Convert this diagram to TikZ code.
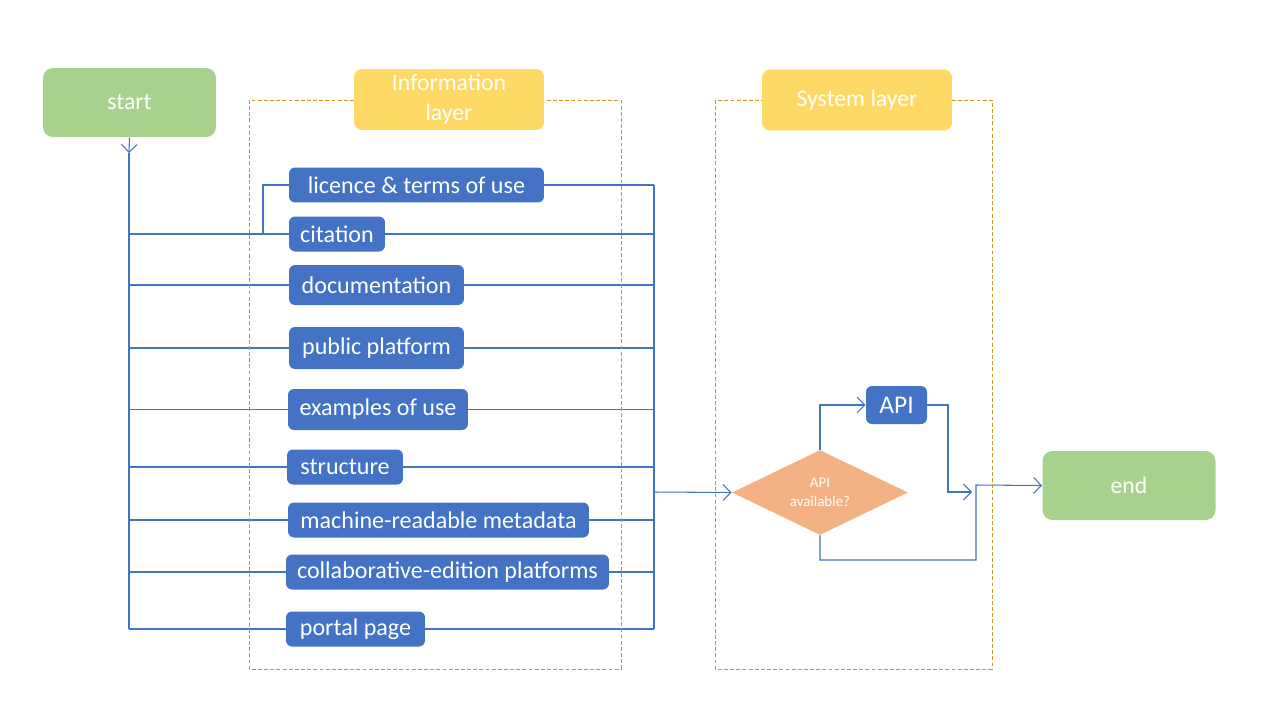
\documentclass[tikz,border=0pt]{standalone}
\usepackage{fontspec}
\setmainfont{Carlito}
\usetikzlibrary{arrows.meta,shapes.geometric,calc}
\pgfdeclarelayer{bg}
\pgfsetlayers{bg,main}
\definecolor{cgreen}{HTML}{A9D18E}
\definecolor{cyellow}{HTML}{FFD966}
\definecolor{cblue}{HTML}{4472C4}
\definecolor{corange}{HTML}{F4B183}
\definecolor{cgold}{HTML}{C99A1E}
\definecolor{cline}{HTML}{4472C4}
\tikzset{
  termbox/.style={fill=cgreen, rounded corners=0.2cm, text=white, font=\fontsize{13.5}{16}\selectfont, minimum width=3.46cm, minimum height=1.38cm, inner sep=0pt},
  layerbox/.style={fill=cyellow, rounded corners=0.16cm, text=white, font=\fontsize{13.5}{17}\selectfont, minimum width=3.8cm, minimum height=1.22cm, inner sep=0pt, align=center},
  itembox/.style={fill=cblue, rounded corners=0.12cm, text=white, font=\fontsize{13.7}{16}\selectfont, minimum height=0.7cm, inner sep=0pt},
  frame/.style={draw=cgold, line width=0.45pt, dash pattern=on 2.2pt off 1.3pt},
  conn/.style={draw=cline, line width=0.6pt},
  arr/.style={conn, -{Straight Barb[length=4.5pt,width=9pt]}},
}
\begin{document}
\begin{tikzpicture}[x=0.02cm,y=-0.02cm]
\useasboundingbox (0,0) rectangle (1280,720);
% frames
\draw[frame] (249,100) rectangle (621,669);
\draw[frame] (715,100) rectangle (992,669);
% terminals and layers
\node[termbox] (start) at (129.5,102.5) {start};
\node[termbox] (end) at (1129,485.5) {end};
\node[layerbox] (info) at (449,99.5) {Information\\layer};
\node[layerbox] (sys) at (857,100) {System layer};
% items
\node[itembox, minimum width=5.1cm] (lic) at (416.5,185) {licence \& terms of use};
\node[itembox, minimum width=1.92cm] (cit) at (337,234) {citation};
\node[itembox, minimum width=3.5cm, minimum height=0.8cm] (doc) at (376.5,285) {documentation};
\node[itembox, minimum width=3.5cm, minimum height=0.84cm] (pub) at (376.5,348) {public platform};
\node[itembox, minimum width=3.6cm, minimum height=0.82cm] (ex) at (378,409.5) {examples of use};
\node[itembox, minimum width=2.32cm] (str) at (345,467) {structure};
\node[itembox, minimum width=6.02cm] (mach) at (438.5,520) {machine-readable metadata};
\node[itembox, minimum width=6.46cm] (coll) at (447.5,572) {collaborative-edition platforms};
\node[itembox, minimum width=2.78cm] (portal) at (355.5,629) {portal page};
\node[itembox, minimum width=1.22cm, minimum height=0.76cm, font=\fontsize{14.5}{17}\selectfont] (api) at (896.5,405) {API};
\node[diamond, fill=corange, minimum width=3.52cm, minimum height=1.7cm, inner sep=0pt, aspect=2.07, text=white, align=center, font=\fontsize{8.5}{11}\selectfont] (dec) at (820,492.5) {API\\available?};
% coordinates
\coordinate (tl) at (129,153);
\coordinate (tb) at (129,629);
\coordinate (rt) at (654,185);
\coordinate (rb) at (654,629);
\coordinate (lic0) at (239,234);
\coordinate (mid) at (654,492);
\coordinate (ja) at (948,405);
\coordinate (jb) at (976,485);
\coordinate (dl) at (820,560);
\begin{pgfonlayer}{bg}
\draw[arr] (start.south) -- (tl);
\draw[conn] (tl) -- (tb);
\draw[conn] (rt) -- (rb);
\draw[conn] (lic0) -- (263,234) |- (rt);
\foreach \b in {cit,doc,pub,ex,str,mach,coll,portal}{
  \draw[conn] (tl |- \b.west) -- (rt |- \b.east);
}
\draw[arr] (mid) -- (dec.west);
\draw[arr] (dec.north) |- (api.west);
\draw[arr] (api.east) -| (ja) |- ($(jb)+(-4,7)$);
\draw[arr] (dec.south) -- (dl) -| (jb) -- (end.west);
\end{pgfonlayer}
\end{tikzpicture}
\end{document}
